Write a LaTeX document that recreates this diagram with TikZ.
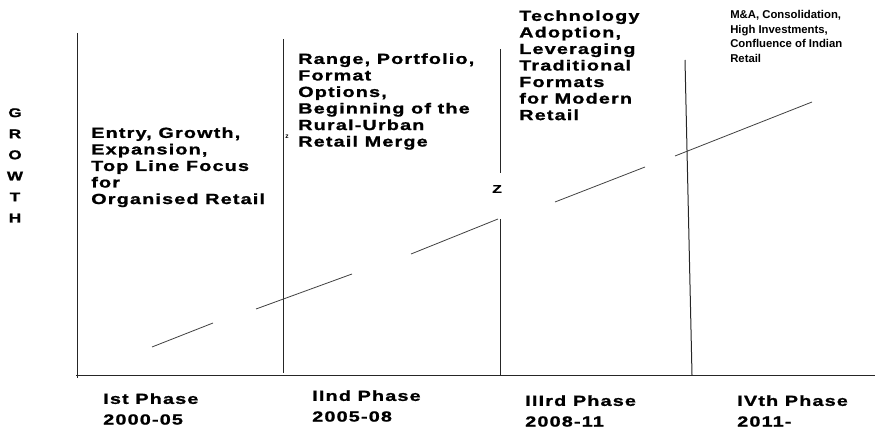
\documentclass[tikz,border=0pt]{standalone}
\usepackage{fontspec}
\setmainfont{Liberation Sans}
\newfontfamily\widebold[FakeStretch=1.35,LetterSpace=8,FakeBold=1.2]{Liberation Sans Bold}
\newfontfamily\plainbold{Liberation Sans Bold}

\begin{document}
\begin{tikzpicture}[x=0.75pt,y=-0.75pt,
    phasetext/.style={anchor=north west,inner sep=0pt,align=left,
      font=\widebold\fontsize{11}{12.4}\selectfont},
    phaselabel/.style={anchor=north west,inner sep=0pt,align=left,
      font=\widebold\fontsize{11}{15.5}\selectfont},
    divider/.style={line width=0.75pt,black!85},
    trend/.style={line width=0.6pt,black!75}]
    \useasboundingbox (0,0) rectangle (875,434);
    % axes
    \draw[divider] (77,33) -- (77,378) (76,376) -- (875,376);
    % phase dividers
    \draw[divider] (283,39) -- (283,373);
    \draw[divider] (500,49) -- (500,173) (500,219) -- (500,375);
    \draw[divider] (685,60) -- (692,375);
    % growth line
    \draw[trend] (152,347) -- (213,323) (256,309) -- (352,274) (411,254) -- (498,219)
      (555,202) -- (645,167) (675,156) -- (812,102);
    % texts
    \node[anchor=north,inner sep=0pt,align=center,font=\widebold\fontsize{9.5}{15.8}\selectfont]
      (growth) at (15,108) {G\\R\\O\\W\\T\\H};
    \node[phasetext] (entry) at (91,127) {Entry, Growth,\\Expansion,\\Top Line Focus\\for\\Organised Retail};
    \node[phasetext] (range) at (298,53) {Range, Portfolio,\\Format\\Options,\\Beginning of the\\Rural-Urban\\Retail Merge};
    \node[phasetext] (tech) at (519,10) {Technology\\Adoption,\\Leveraging\\Traditional\\Formats\\for Modern\\Retail};
    \node[anchor=north west,inner sep=0pt,align=left,font=\plainbold\fontsize{8.5}{10.9}\selectfont]
      (merger) at (730,10) {M\&A, Consolidation,\\High Investments,\\Confluence of Indian\\Retail};
    \node[font=\widebold\fontsize{8.5}{10}\selectfont,inner sep=0pt] (zmark) at (497,189) {Z};
    \node[font=\plainbold\fontsize{5}{6}\selectfont,inner sep=0pt] (zsmall) at (287,137) {z};
    % phase labels
    \node[phaselabel] (p1) at (103,393) {Ist Phase\\2000-05};
    \node[phaselabel] (p2) at (312,390) {IInd Phase\\2005-08};
    \node[phaselabel] (p3) at (525,395) {IIIrd Phase\\2008-11};
    \node[phaselabel] (p4) at (737,395) {IVth Phase\\2011-};
  \end{tikzpicture}
\end{document}
